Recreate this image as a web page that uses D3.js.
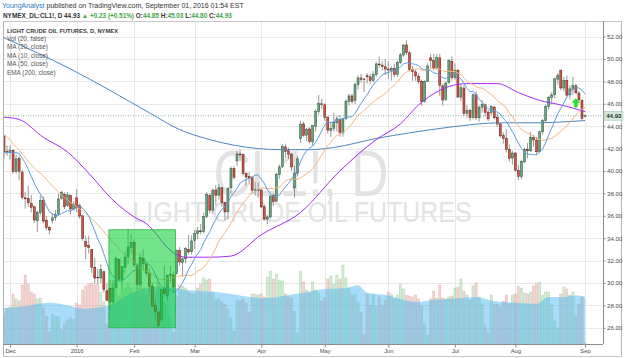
<!DOCTYPE html>
<html><head><meta charset="utf-8">
<script src="https://cdn.jsdelivr.net/npm/d3@7"></script>
<style>
body{margin:0;background:#fff}
svg{display:block;font-family:"Liberation Sans",Arial,sans-serif}
</style>
</head><body>
<svg id="chart" width="625" height="358"></svg>
<script>
// ---------- DATA ----------
const dates = ["2015-11-27","2015-11-30",
"2015-12-01","2015-12-02","2015-12-03","2015-12-04","2015-12-07","2015-12-08","2015-12-09","2015-12-10","2015-12-11","2015-12-14","2015-12-15","2015-12-16","2015-12-17","2015-12-18","2015-12-21","2015-12-22","2015-12-23","2015-12-24","2015-12-28","2015-12-29","2015-12-30","2015-12-31",
"2016-01-04","2016-01-05","2016-01-06","2016-01-07","2016-01-08","2016-01-11","2016-01-12","2016-01-13","2016-01-14","2016-01-15","2016-01-19","2016-01-20","2016-01-21","2016-01-22","2016-01-25","2016-01-26","2016-01-27","2016-01-28","2016-01-29",
"2016-02-01","2016-02-02","2016-02-03","2016-02-04","2016-02-05","2016-02-08","2016-02-09","2016-02-10","2016-02-11","2016-02-12","2016-02-16","2016-02-17","2016-02-18","2016-02-19","2016-02-22","2016-02-23","2016-02-24","2016-02-25","2016-02-26","2016-02-29",
"2016-03-01","2016-03-02","2016-03-03","2016-03-04","2016-03-07","2016-03-08","2016-03-09","2016-03-10","2016-03-11","2016-03-14","2016-03-15","2016-03-16","2016-03-17","2016-03-18","2016-03-21","2016-03-22","2016-03-23","2016-03-24","2016-03-28","2016-03-29","2016-03-30","2016-03-31",
"2016-04-01","2016-04-04","2016-04-05","2016-04-06","2016-04-07","2016-04-08","2016-04-11","2016-04-12","2016-04-13","2016-04-14","2016-04-15","2016-04-18","2016-04-19","2016-04-20","2016-04-21","2016-04-22","2016-04-25","2016-04-26","2016-04-27","2016-04-28","2016-04-29",
"2016-05-02","2016-05-03","2016-05-04","2016-05-05","2016-05-06","2016-05-09","2016-05-10","2016-05-11","2016-05-12","2016-05-13","2016-05-16","2016-05-17","2016-05-18","2016-05-19","2016-05-20","2016-05-23","2016-05-24","2016-05-25","2016-05-26","2016-05-27","2016-05-31",
"2016-06-01","2016-06-02","2016-06-03","2016-06-06","2016-06-07","2016-06-08","2016-06-09","2016-06-10","2016-06-13","2016-06-14","2016-06-15","2016-06-16","2016-06-17","2016-06-20","2016-06-21","2016-06-22","2016-06-23","2016-06-24","2016-06-27","2016-06-28","2016-06-29","2016-06-30",
"2016-07-01","2016-07-05","2016-07-06","2016-07-07","2016-07-08","2016-07-11","2016-07-12","2016-07-13","2016-07-14","2016-07-15","2016-07-18","2016-07-19","2016-07-20","2016-07-21","2016-07-22","2016-07-25","2016-07-26","2016-07-27","2016-07-28","2016-07-29",
"2016-08-01","2016-08-02","2016-08-03","2016-08-04","2016-08-05","2016-08-08","2016-08-09","2016-08-10","2016-08-11","2016-08-12","2016-08-15","2016-08-16","2016-08-17","2016-08-18","2016-08-19","2016-08-22","2016-08-23","2016-08-24","2016-08-25","2016-08-26","2016-08-29","2016-08-30","2016-08-31",
"2016-09-01"];

const open = [43.12,41.75,
41.65,41.85,39.95,41.10,39.90,37.60,37.55,37.10,36.80,35.55,36.30,37.40,35.60,34.95,35.60,35.85,36.20,37.55,37.90,36.90,37.80,36.60,
37.60,36.90,36.00,33.70,33.35,33.00,31.40,30.50,30.45,31.00,29.30,29.50,28.30,29.60,32.10,30.30,31.40,32.30,33.20,
33.60,31.60,29.90,32.20,31.70,30.90,29.70,28.00,27.40,26.70,29.50,28.90,30.70,30.70,30.85,32.90,31.85,32.15,33.00,32.80,
33.80,34.40,34.65,34.60,35.95,37.80,36.50,38.30,37.85,38.50,37.20,36.35,38.50,40.20,40.90,41.50,41.45,39.80,39.50,39.40,38.30,38.30,
38.30,36.80,35.70,35.90,37.80,37.30,39.70,40.40,42.15,41.80,41.50,38.50,39.80,42.90,44.20,43.20,43.75,42.60,44.00,45.30,46.00,
45.90,44.80,43.60,43.80,44.30,44.60,43.40,44.70,46.20,46.70,46.30,47.70,48.30,48.20,48.50,48.40,48.10,48.60,49.55,49.45,49.30,
49.10,49.00,49.15,48.60,49.70,50.35,51.25,50.55,49.05,48.85,48.45,48.00,46.20,48.00,50.10,49.85,49.15,50.10,47.60,46.40,47.90,49.80,
48.35,49.00,46.60,47.40,45.15,45.40,44.80,46.80,44.75,45.70,45.90,45.25,45.20,45.70,44.80,44.20,43.15,42.90,41.90,41.15,
41.60,40.05,39.50,40.80,41.95,41.80,43.00,42.75,41.75,43.50,44.50,45.75,46.55,46.80,48.20,49.00,47.40,48.10,46.80,47.30,47.60,46.95,46.30,
44.85];

const high = [43.20,42.27,
42.30,41.90,41.46,41.38,40.10,38.16,38.66,37.86,36.94,36.43,37.77,37.72,35.96,35.10,36.22,36.50,37.97,38.22,38.09,38.13,37.90,37.29,
38.39,37.10,36.04,34.23,34.20,33.00,32.21,31.25,31.71,31.10,29.95,29.55,30.25,32.35,32.15,31.53,32.83,34.82,34.40,
33.85,31.75,32.65,33.00,32.00,31.30,30.00,28.50,27.65,29.50,31.53,30.76,31.53,30.99,33.00,33.20,32.30,33.22,34.29,34.25,
34.76,35.00,35.27,36.26,38.11,38.00,38.42,38.75,38.82,38.55,37.22,38.55,40.41,40.40,41.80,41.90,41.55,39.85,39.88,39.55,39.04,38.98,
38.35,37.00,36.08,37.87,38.00,39.82,40.58,42.40,42.44,42.08,41.60,40.44,41.38,44.49,44.40,43.85,43.90,44.10,45.50,46.78,46.45,
46.04,44.90,44.38,45.20,44.91,45.00,44.77,46.37,46.90,46.90,47.90,48.53,48.67,48.30,48.75,48.70,48.90,49.76,50.21,49.79,50.00,
49.79,49.35,49.57,49.84,50.53,51.34,51.67,50.70,49.40,49.03,48.70,48.17,48.10,49.60,50.43,50.45,50.40,50.45,47.80,47.98,49.97,50.22,
49.60,49.09,47.75,47.66,45.86,45.55,46.92,47.08,45.90,46.31,46.02,45.45,45.85,45.80,45.14,44.28,43.45,43.72,42.38,41.80,
41.69,40.52,41.00,42.05,42.50,43.50,43.20,43.03,43.59,44.64,45.94,46.70,47.05,48.35,48.75,49.05,48.40,48.50,47.60,48.40,47.80,47.15,46.40,
45.03];

const low = [41.11,41.35,
41.03,39.75,39.77,39.16,37.45,36.64,36.79,36.31,35.36,34.53,36.06,35.33,34.72,34.34,35.30,35.55,36.00,37.43,36.58,36.80,36.10,36.52,
36.33,35.74,33.77,32.10,32.64,30.88,29.93,29.93,29.98,29.13,28.36,27.56,28.20,29.50,30.14,29.25,30.92,31.67,32.64,
31.42,29.50,29.70,31.10,30.60,29.12,27.80,26.75,26.05,26.50,28.80,28.47,30.05,29.09,30.75,31.55,30.56,31.75,32.55,32.55,
33.05,33.90,34.33,34.44,35.78,36.22,36.18,36.96,37.45,36.78,35.60,35.71,37.98,39.23,40.45,40.86,39.58,38.69,38.80,37.95,37.81,37.63,
36.67,35.55,35.24,35.83,36.88,37.26,39.30,40.24,41.22,41.05,40.03,37.61,39.50,42.50,43.05,42.68,42.48,42.27,43.53,45.05,45.49,
44.47,43.34,43.04,43.52,43.52,43.05,43.04,44.54,45.85,46.03,46.00,47.27,47.90,47.06,47.80,47.75,47.90,48.41,49.22,49.00,48.55,
48.23,48.07,48.36,48.40,49.53,50.21,50.35,48.90,48.05,48.06,47.77,45.83,46.10,47.95,49.17,48.95,49.05,46.69,45.83,46.25,47.80,48.06,
48.15,46.53,46.25,44.91,44.77,44.49,44.62,44.53,44.40,45.20,44.86,44.46,44.95,44.60,43.95,42.98,42.45,41.64,40.82,40.57,
39.94,39.19,39.26,40.74,41.12,41.70,42.15,41.49,41.65,43.25,44.30,45.45,45.95,46.50,47.70,47.20,47.10,46.65,46.40,46.80,46.85,46.21,44.56,
44.80];

const close = [41.71,41.65,
41.85,39.94,41.08,39.97,37.65,37.51,37.16,36.76,35.62,36.31,37.35,35.52,34.95,34.73,35.81,36.14,37.50,38.10,36.81,37.87,36.60,37.04,
36.76,35.97,33.97,33.27,33.16,31.41,30.44,30.48,31.20,29.42,28.46,28.35,29.53,32.19,30.34,31.45,32.30,33.22,33.62,
31.62,29.88,32.28,31.72,30.89,29.69,27.94,27.45,26.21,29.44,29.04,30.66,30.77,29.64,32.88,31.87,32.15,33.07,32.78,33.75,
34.40,34.66,34.57,35.92,37.90,36.50,38.29,37.84,38.50,37.18,36.34,38.46,40.20,39.44,41.52,41.45,39.79,39.46,39.39,38.28,38.32,38.34,
36.79,35.70,35.89,37.75,37.26,39.72,40.36,42.17,41.76,41.50,40.36,39.78,41.08,44.18,43.18,43.73,42.64,44.04,45.33,46.03,45.92,
44.78,43.65,43.78,44.32,44.66,43.44,44.66,46.23,46.70,46.21,47.72,48.31,48.19,48.16,48.41,48.08,48.62,49.56,49.48,49.33,49.10,
49.01,49.17,48.62,49.69,50.36,51.23,50.56,49.07,48.88,48.49,48.01,46.21,47.98,49.37,49.85,49.13,50.11,47.64,46.33,47.85,49.88,48.33,
48.99,46.60,47.43,45.14,45.41,44.76,46.80,44.75,45.68,45.95,45.24,44.65,45.75,44.75,44.19,43.13,42.92,41.92,41.14,41.60,
40.06,39.51,40.83,41.93,41.80,43.02,42.77,41.71,43.49,44.49,45.74,46.58,46.79,48.22,48.52,47.41,48.10,46.77,47.33,47.64,46.98,46.35,44.70,
44.93];

// volume, thousands of contracts
const volume = [300,360,
370,500,450,430,590,690,600,520,500,450,460,360,280,120,300,280,270,140,200,240,260,250,
410,390,540,580,600,610,590,600,520,420,200,640,600,580,480,520,560,600,560,
510,560,650,560,500,540,570,530,620,500,420,380,260,120,480,590,580,560,520,500,
500,560,600,660,640,650,520,440,450,420,400,350,260,130,440,430,450,410,320,500,500,490,
500,470,670,730,650,700,640,630,500,470,460,330,110,730,620,540,510,620,540,510,430,
460,650,680,600,690,650,790,660,560,490,500,420,320,100,500,390,500,370,470,380,440,
520,500,450,490,600,550,490,480,470,490,450,380,200,90,450,530,460,590,460,450,470,480,
560,570,650,530,490,440,580,610,470,400,190,110,490,400,400,370,430,490,400,490,
500,580,560,510,500,520,580,610,620,490,520,520,390,230,160,500,570,550,490,520,280,400,470,
12];

// closes of the 19 sessions before the first bar (for MA 10 / MA 20)
const priorCloses = [46.59,46.14,47.90,46.32,45.20,44.29,44.21,44.21,42.93,41.75,40.74,41.74,40.67,40.75,40.54,41.90,41.75,42.87,43.04];

// MA(50) and EMA(200): bar index -> value
const ma50Bar = [0,5,13,21,28,36,43,47,56,60,68,75,85,98,111,123,131,137,144,153,163,170,177,184,192];
const ma50Val = [44.8,44.6,43.0,41.7,39.8,37.4,35.9,35.3,32.7,32.3,32.3,32.4,34.3,36.3,40.0,42.8,44.2,45.9,47.2,47.8,47.8,47.0,46.3,45.9,45.3];
const ema200Bar = [0,22,35,48,58,68,76,92,101,109,123,134,147,164,175,192];
const ema200Val = [51.9,49.1,47.2,45.2,43.7,42.8,42.3,41.9,41.9,42.1,42.9,43.4,43.9,44.3,44.3,44.5];
// Volume MA(20)
const volMaBar = [0,5,15,21,26,32,35,43,52,56,60,65,70,77,81,87,94,99,105,113,117,120,127,134,137,142,148,156,162,169,176,180,185,189,192];
const volMaVal = [360,370,413,387,353,370,390,523,573,560,540,530,520,490,470,460,490,513,547,560,587,513,487,427,420,443,453,470,427,413,403,470,470,487,470];

const priceTicks = [26,28,30,32,34,36,38,40,42,44,46,48,50,52];
const monthTickDates = ["2015-12-01","2016-01-04","2016-02-01","2016-03-01","2016-04-01","2016-05-02","2016-06-01","2016-07-01","2016-08-01","2016-09-01"];
const monthLabels = ["Dec","2016","Feb","Mar","Apr","May","Jun","Jul","Aug","Sep"];

// box annotation (first and last bar covered, price range)
const boxBars = ["2016-01-20","2016-02-19"];
const boxPrices = [34.75, 26.0];
const arrowBar = "2016-08-29";
const arrowPrice = 46.5;

// ---------- LAYOUT ----------
const P = {left:3, right:603, top:21, bottom:344};
const svg = d3.select("#chart");
const x = d3.scalePoint().domain(dates).range([4, 585]);
const y = d3.scaleLinear().domain([24.55, 53.39]).range([P.bottom, P.top]);
const yv = d3.scaleLinear().domain([0, 1000]).range([P.bottom, 244]);
const n = dates.length;
const idx = d3.range(n);

svg.append("defs").append("clipPath").attr("id","clip")
  .append("rect").attr("x",P.left).attr("y",P.top).attr("width",P.right-P.left).attr("height",P.bottom-P.top);

// grid
const grid = svg.append("g");
grid.selectAll("line.h").data(priceTicks).join("line")
  .attr("x1",P.left).attr("x2",P.right).attr("y1",d=>Math.round(y(d))+0.5).attr("y2",d=>Math.round(y(d))+0.5)
  .attr("stroke","#e8e8e8").attr("stroke-width",1);
grid.selectAll("line.v").data(monthTickDates).join("line")
  .attr("x1",d=>Math.round(x(d))+0.5).attr("x2",d=>Math.round(x(d))+0.5).attr("y1",P.top).attr("y2",P.bottom)
  .attr("stroke","#e8e8e8").attr("stroke-width",1);

// watermark
svg.append("text").attr("x",301).attr("y",196).attr("text-anchor","middle")
  .attr("font-size",64).attr("fill","#e3e3e3").attr("textLength",175).attr("lengthAdjust","spacingAndGlyphs")
  .text("CL1!, D");
svg.append("text").attr("x",302).attr("y",222).attr("text-anchor","middle")
  .attr("font-size",29).attr("fill","#e3e3e3").attr("textLength",339).attr("lengthAdjust","spacingAndGlyphs")
  .text("LIGHT CRUDE OIL FUTURES");

const plot = svg.append("g").attr("clip-path","url(#clip)");

// volume bars
const isUp = i => close[i] >= open[i];
plot.append("g").selectAll("rect").data(idx).join("rect")
  .attr("x",i=>x(dates[i])-1.1).attr("width",2.2)
  .attr("y",i=>yv(volume[i])).attr("height",i=>P.bottom-yv(volume[i]))
  .attr("fill",i=>isUp(i)?"#a9d9ab":"#eaaba3").attr("fill-opacity",0.5)
  .attr("stroke",i=>isUp(i)?"#8cc790":"#d99a92").attr("stroke-opacity",0.6).attr("stroke-width",0.5);

// volume MA area
const volArea = d3.area().x((d,k)=>x(dates[volMaBar[k]])).y0(P.bottom).y1(d=>yv(d)).curve(d3.curveMonotoneX);
plot.append("path").datum(volMaVal).attr("d",volArea).attr("fill","rgb(81,185,241)").attr("fill-opacity",0.5);

// candles
const up = {fill:"#6ba583",stroke:"#225437"}, dn = {fill:"#d75442",stroke:"#5b1a13"};
const cg = plot.append("g");
cg.selectAll("line").data(idx).join("line")
  .attr("x1",i=>x(dates[i])).attr("x2",i=>x(dates[i]))
  .attr("y1",i=>y(high[i])).attr("y2",i=>y(low[i]))
  .attr("stroke","#7d7d7d").attr("stroke-width",0.8);
cg.selectAll("rect").data(idx).join("rect")
  .attr("x",i=>x(dates[i])-1).attr("width",2)
  .attr("y",i=>y(Math.max(open[i],close[i])))
  .attr("height",i=>Math.max(0.6,Math.abs(y(open[i])-y(close[i]))))
  .attr("fill",i=>isUp(i)?up.fill:dn.fill)
  .attr("stroke",i=>isUp(i)?up.stroke:dn.stroke).attr("stroke-width",0.5);

// moving averages
const allCloses = priorCloses.concat(close);
const off = priorCloses.length;
const sma = len => idx.map(i => d3.mean(allCloses.slice(i+off-len+1, i+off+1)));
const ma10 = sma(10), ma20 = sma(20);
const lineIdx = d3.line().x((d,i)=>x(dates[i])).y(d=>y(d));
const lineBars = bars => d3.line().x((d,k)=>x(dates[bars[k]])).y(d=>y(d)).curve(d3.curveMonotoneX);

plot.append("path").datum(ema200Val).attr("d",lineBars(ema200Bar)).attr("fill","none").attr("stroke","#4f86c0").attr("stroke-width",1);
plot.append("path").datum(ma50Val).attr("d",lineBars(ma50Bar)).attr("fill","none").attr("stroke","#a52cf0").attr("stroke-width",1);
plot.append("path").datum(ma20).attr("d",lineIdx).attr("fill","none").attr("stroke","#f7b57e").attr("stroke-width",1);
plot.append("path").datum(ma10).attr("d",lineIdx).attr("fill","none").attr("stroke","#5f9be0").attr("stroke-width",1);

// last price line
const last = close[n-1];
svg.append("line").attr("x1",P.left).attr("x2",P.right).attr("y1",y(last)).attr("y2",y(last))
  .attr("stroke","#6b9a80").attr("stroke-width",0.8).attr("stroke-dasharray","1,1.5");

// green box
const bx0 = x(boxBars[0])-1, bx1 = x(boxBars[1])+2;
svg.append("rect").attr("x",bx0).attr("y",y(boxPrices[0])).attr("width",bx1-bx0).attr("height",y(boxPrices[1])-y(boxPrices[0]))
  .attr("fill","rgb(0,205,45)").attr("fill-opacity",0.55).attr("stroke","#2fb548").attr("stroke-width",0.8);

// arrow (tip at arrowPrice)
const ax = x(arrowBar), ay = y(arrowPrice);
svg.append("path")
  .attr("d",`M${ax},${ay} L${ax+4.3},${ay+4.6} H${ax+1.7} V${ay+9.4} H${ax-1.7} V${ay+4.6} H${ax-4.3} Z`)
  .attr("fill","#1ee61e");

// frame
svg.append("line").attr("x1",P.left).attr("x2",621).attr("y1",P.top+0.5).attr("y2",P.top+0.5).attr("stroke","#c8c8c8");
svg.append("line").attr("x1",P.left+0.5).attr("x2",P.left+0.5).attr("y1",P.top).attr("y2",356).attr("stroke","#b0b0b0");
svg.append("line").attr("x1",621.5).attr("x2",621.5).attr("y1",P.top).attr("y2",356).attr("stroke","#b8b8b8");
svg.append("line").attr("x1",P.left).attr("x2",622).attr("y1",356.5).attr("y2",356.5).attr("stroke","#c8c8c8");

// axes
const yAxis = d3.axisRight(y).tickValues(priceTicks).tickFormat(d3.format(".2f")).tickSize(2).tickPadding(1.5);
const ya = svg.append("g").attr("transform",`translate(${P.right+0.5},0)`).call(yAxis);
ya.select(".domain").attr("stroke","#8c8c8c").attr("d",`M0,${P.top}V${P.bottom}`);
ya.selectAll(".tick line").attr("stroke","#8c8c8c");
ya.selectAll("text").attr("font-size",6.1).attr("fill","#4a4a4a").attr("font-family","Liberation Sans, Arial, sans-serif");

const xAxis = d3.axisBottom(x).tickValues(monthTickDates).tickFormat((d,i)=>monthLabels[i]).tickSize(3).tickPadding(1.5);
const xa = svg.append("g").attr("transform",`translate(0,${P.bottom+0.5})`).call(xAxis);
xa.select(".domain").attr("stroke","#8c8c8c").attr("d",`M${P.left},0H${P.right}`);
xa.selectAll(".tick line").attr("stroke","#8c8c8c");
xa.selectAll("text").attr("font-size",5.8).attr("fill","#4a4a4a").attr("font-family","Liberation Sans, Arial, sans-serif");

// last price label
const lp = svg.append("g").attr("transform",`translate(${P.right+1},${y(last)})`);
lp.append("rect").attr("x",0).attr("y",-4.5).attr("width",19).attr("height",9).attr("fill","#d3e7d9").attr("stroke","#9cc4a8").attr("stroke-width",0.5);
lp.append("text").attr("x",2.2).attr("y",2.2).attr("font-size",6.1).attr("font-weight","bold").attr("fill","#2d2d2d").text(d3.format(".2f")(last));

// header
const h1 = svg.append("text").attr("x",2).attr("y",8).attr("font-size",7).attr("fill","#333");
h1.append("tspan").attr("fill","#2a7ac0").text("YoungAnalyst");
h1.append("tspan").text(" published on TradingView.com, September 01, 2016 01:54 EST");
const chg = close[n-1]-close[n-2];
const h2 = svg.append("text").attr("x",3).attr("y",17.5).attr("font-size",6.4).attr("font-weight","bold").attr("fill","#333");
const green = "#3ea543";
h2.append("tspan").text(`NYMEX_DL:CL1!, D ${d3.format(".2f")(last)} `);
h2.append("tspan").attr("fill",green).text(`\u25B2 +${d3.format(".2f")(chg)} (+${d3.format(".2f")(chg/close[n-2]*100)}%)`);
[["O:",open[n-1]],["H:",high[n-1]],["L:",low[n-1]],["C:",close[n-1]]].forEach(([k,v])=>{
  h2.append("tspan").text(" "+k);
  h2.append("tspan").attr("fill",green).text(d3.format(".2f")(v));
});

// legend
svg.append("text").attr("x",7).attr("y",32.7).attr("font-size",5.8).attr("font-weight","bold").attr("fill","#3a3a3a")
  .text("LIGHT CRUDE OIL FUTURES, D, NYMEX");
const legendItems = ["Vol (20, false)","MA (20, close)","MA (10, close)","MA (50, close)","EMA (200, close)"];
svg.append("g").selectAll("text").data(legendItems).join("text")
  .attr("x",7).attr("y",(d,i)=>41+i*8.4).attr("font-size",6.4).attr("fill","#555").text(d=>d);
</script>
</body></html>
